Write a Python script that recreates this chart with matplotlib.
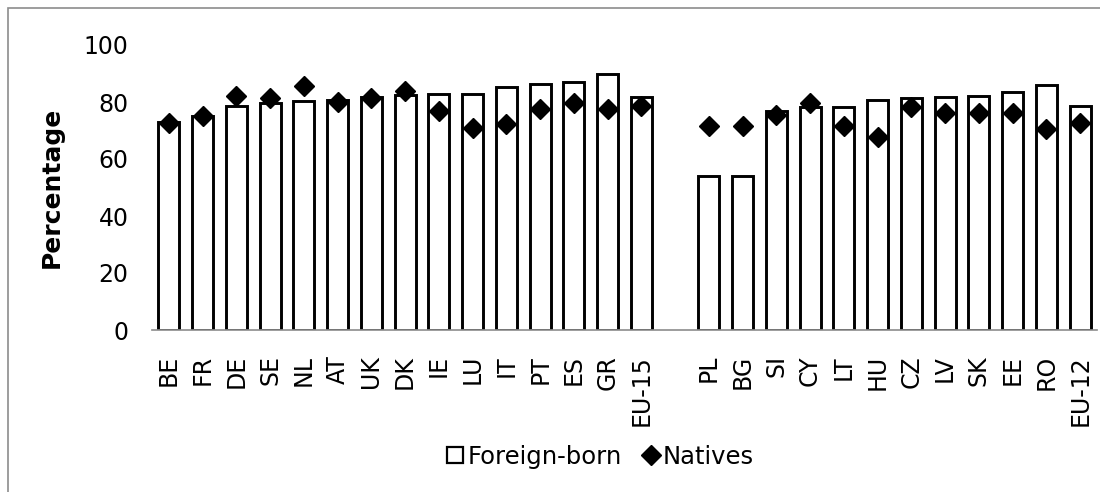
import numpy as np
import matplotlib
matplotlib.use("Agg")
import matplotlib.pyplot as plt
from matplotlib.patches import Rectangle
from matplotlib.lines import Line2D

# EU-15 block and EU-12 block, separated by one empty slot
old_members = ["BE", "FR", "DE", "SE", "NL", "AT", "UK", "DK", "IE", "LU",
               "IT", "PT", "ES", "GR", "EU-15"]
new_members = ["PL", "BG", "SI", "CY", "LT", "HU", "CZ", "LV", "SK", "EE",
               "RO", "EU-12"]

foreign_old = [73.1, 75.1, 78.6, 79.5, 80.4, 80.7, 81.9, 82.5, 82.7, 82.8,
               85.3, 86.2, 86.9, 89.8, 81.9]
natives_old = [72.5, 75.1, 82.1, 81.5, 85.6, 80.1, 81.5, 84.0, 76.8, 71.0,
               72.2, 77.4, 79.8, 77.4, 78.6]
foreign_new = [54.1, 54.1, 76.8, 78.1, 78.4, 80.7, 81.4, 81.8, 82.1, 83.5,
               86.0, 78.5]
natives_new = [71.7, 71.7, 75.4, 79.8, 71.6, 67.6, 78.4, 76.2, 76.0, 76.0,
               70.7, 72.6]

labels = old_members + new_members
foreign = foreign_old + foreign_new
natives = natives_old + natives_new
pos = np.concatenate([np.arange(len(old_members)),
                      np.arange(len(new_members)) + len(old_members) + 1])

plt.rcParams["font.family"] = ["DejaVu Sans"]

fig = plt.figure(figsize=(11, 4.92), dpi=100)
ax = fig.add_axes([152 / 1100, 1 - 330 / 492, (1097 - 152) / 1100, (330 - 45) / 492])

ax.bar(pos, foreign, width=0.62, color="white", edgecolor="black",
       linewidth=2.1, zorder=2)
ax.plot(pos, natives, linestyle="none", marker="D", markersize=10.5,
        color="black", zorder=3)

ax.set_xlim(-0.5, pos[-1] + 0.5)
ax.set_ylim(0, 100)
ax.set_yticks(range(0, 101, 20))
ax.set_xticks(pos)
ax.set_xticklabels(labels, rotation=90, fontsize=17)
ax.tick_params(axis="x", length=0, pad=18)
ax.tick_params(axis="y", length=0, pad=17, labelsize=17)
ax.set_ylabel("Percentage", fontsize=18, fontweight="bold", labelpad=14)

for side in ("left", "right", "top"):
    ax.spines[side].set_visible(False)
ax.spines["bottom"].set_color("#8c8c8c")
ax.spines["bottom"].set_linewidth(1.2)

handles = [
    Line2D([], [], linestyle="none", marker="s", markersize=11,
           markerfacecolor="white", markeredgecolor="black", markeredgewidth=1.6),
    Line2D([], [], linestyle="none", marker="D", markersize=10, color="black"),
]
fig.legend(handles, ["Foreign-born", "Natives"], loc="center",
           bbox_to_anchor=(601 / 1100, 1 - 457 / 492), ncol=2, frameon=False,
           fontsize=17.5, handlelength=0.6, handletextpad=0.2, columnspacing=0.9,
           borderpad=0)

# chart frame
fig.patches.append(Rectangle((8 / 1100, -0.2), 1.2, 1.2 - 8 / 492,
                             transform=fig.transFigure, fill=False,
                             edgecolor="#8c8c8c", linewidth=1.2))

fig.savefig("out.png", dpi=100)
